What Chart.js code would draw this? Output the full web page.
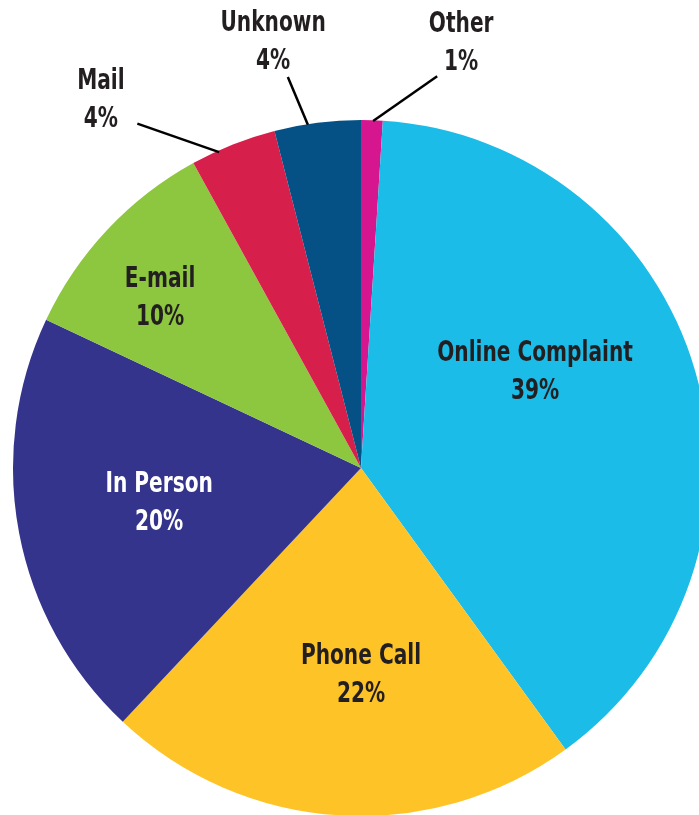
<!DOCTYPE html>
<html>
<head>
<meta charset="utf-8">
<script src="https://cdn.jsdelivr.net/npm/chart.js@4"></script>
<style>
  html, body { margin: 0; padding: 0; background: #fff; overflow: hidden; }
  #wrap { width: 699px; height: 815px; overflow: hidden; }
</style>
</head>
<body>
<div id="wrap"><canvas id="pie" width="722" height="830"></canvas></div>
<script>
// data, clockwise from the top
const categories = ["Other", "Online Complaint", "Phone Call", "In Person", "E-mail", "Mail", "Unknown"];
const shares = [1, 39, 22, 20, 10, 4, 4];
const sliceColors = ["#D6168F", "#1BBCE8", "#FEC427", "#35348C", "#8DC63F", "#D71F4B", "#055186"];

// label layout: angle offset (deg) from the slice's middle and radius factor
const labelSpots = [
  { da: 11.4, r: 1.26, color: "#231F20", lead: [[9.2, 1.147], [0.2, 0.998]] },
  { da: -13.2, r: 0.574, color: "#231F20" },
  { da: -3.6, r: 0.588, color: "#231F20" },
  { da: 1.4, r: 0.588, color: "#FFFFFF" },
  { da: -2.65, r: 0.76, color: "#231F20" },
  { da: -13.5, r: 1.30, color: "#231F20", lead: [[-11.4, 1.18], [-2.6, 0.995]] },
  { da: -4.4, r: 1.256, color: "#231F20", lead: [[-3.4, 1.143], [-1.6, 0.998]] }
];

// no condensed bold font installed, so squeeze DejaVu Condensed a bit more
const squeeze = 0.8;

const sliceLabels = {
  id: "sliceLabels",
  afterDraw(chart) {
    const ctx = chart.ctx;
    const arcs = chart.getDatasetMeta(0).data;
    const deg = Math.PI / 180;
    const say = (txt, x, y) => {
      ctx.save();
      ctx.translate(x, y);
      ctx.scale(squeeze, 1);
      ctx.fillText(txt, 0, 0);
      ctx.restore();
    };
    ctx.save();
    ctx.font = "bold 28px 'Liberation Sans Narrow', 'DejaVu Sans Condensed', sans-serif";
    ctx.textAlign = "center";
    ctx.textBaseline = "alphabetic";
    arcs.forEach((arc, i) => {
      const spot = labelSpots[i];
      const mid = (arc.startAngle + arc.endAngle) / 2;
      const R = arc.outerRadius;
      const at = (da, rf) => [arc.x + Math.cos(mid + da * deg) * R * rf, arc.y + Math.sin(mid + da * deg) * R * rf];
      if (spot.lead) {
        const a = at(spot.lead[0][0], spot.lead[0][1]);
        const b = at(spot.lead[1][0], spot.lead[1][1]);
        ctx.strokeStyle = "#000";
        ctx.lineWidth = 2.5;
        ctx.beginPath();
        ctx.moveTo(a[0], a[1]);
        ctx.lineTo(b[0], b[1]);
        ctx.stroke();
      }
      const p = at(spot.da, spot.r);
      ctx.fillStyle = spot.color;
      say(categories[i], p[0], p[1] - 9);
      say(shares[i] + "%", p[0], p[1] + 29);
    });
    ctx.restore();
  }
};

new Chart(document.getElementById("pie"), {
  type: "pie",
  data: {
    labels: categories,
    datasets: [{
      data: shares,
      backgroundColor: sliceColors,
      borderWidth: 0,
      hoverOffset: 0,
      offset: 0
    }]
  },
  options: {
    responsive: false,
    animation: false,
    layout: { padding: { left: 13, top: 120, right: 13, bottom: 14 } },
    plugins: {
      legend: { display: false },
      tooltip: { enabled: false }
    }
  },
  plugins: [sliceLabels]
});
</script>
</body>
</html>
